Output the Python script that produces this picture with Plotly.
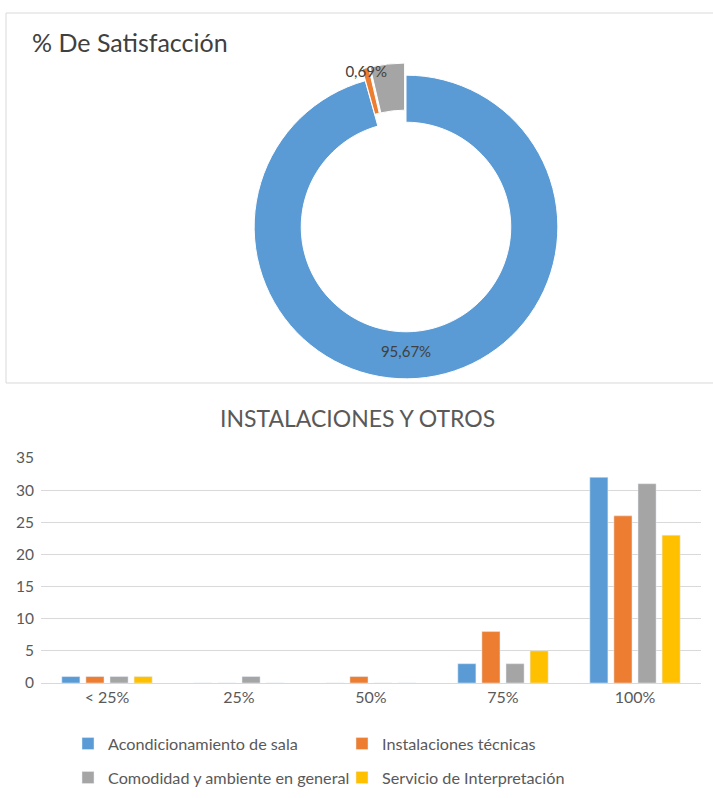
import plotly.graph_objects as go

# Donut data
donut_labels = ["Satisfecho", "Parcial", "No satisfecho"]
donut_values = [95.67, 0.69, 3.64]
donut_text = ["95,67%", "", ""]
donut_text_top = ["", "0,69%", ""]
donut_colors = ["#5B9BD5", "#ED7D31", "#A5A5A5"]

# Bar data
categories = ["< 25%", "25%", "50%", "75%", "100%"]
series_names = ["Acondicionamiento de sala", "Instalaciones técnicas",
                "Comodidad y ambiente en general", "Servicio de Interpretación"]
acondicionamiento = [1, 0, 0, 3, 32]
instalaciones = [1, 0, 1, 8, 26]
comodidad = [1, 1, 0, 3, 31]
interpretacion = [1, 0, 0, 5, 23]
series_values = [acondicionamiento, instalaciones, comodidad, interpretacion]
bar_colors = ["#5B9BD5", "#ED7D31", "#A5A5A5", "#FFC000"]
legend_rows = ["legend", "legend", "legend2", "legend2"]

FONT = "Lato"
W, H = 713, 798

fig = go.Figure()

pie_common = dict(
    labels=donut_labels, values=donut_values,
    textinfo="text", textposition="inside", insidetextorientation="horizontal",
    hole=0.69, sort=False, direction="clockwise", rotation=0,
    pull=[0, 0.08, 0.08],
    textfont=dict(family=FONT, size=15, color="#404040"),
    domain=dict(x=[242 / W, 570 / W], y=[407 / H, 735 / H]),
    showlegend=False, hoverinfo="skip",
)
fig.add_trace(go.Pie(text=donut_text,
                     marker=dict(colors=donut_colors, line=dict(color="white", width=1)),
                     **pie_common))
# overlay carrying only the small-slice label so it stays on top
fig.add_trace(go.Pie(text=donut_text_top,
                     marker=dict(colors=["rgba(0,0,0,0)"] * 3, line=dict(width=0)),
                     **pie_common))

for name, vals, col, lg in zip(series_names, series_values, bar_colors, legend_rows):
    fig.add_trace(go.Bar(name=name, x=categories, y=vals, marker_color=col,
                         legend=lg))

legend_common = dict(orientation="h", x=68 / W, xanchor="left", yanchor="middle",
                     entrywidth=229, entrywidthmode="pixels",
                     font=dict(family=FONT, size=16.2, color="#595959"),
                     itemwidth=30, tracegroupgap=0, bgcolor="rgba(0,0,0,0)")

fig.update_layout(
    width=W, height=H,
    margin=dict(l=0, r=0, t=0, b=0, autoexpand=False),
    paper_bgcolor="white", plot_bgcolor="white",
    font=dict(family=FONT, color="#595959"),
    barmode="group", bargap=0.27, bargroupgap=0.25,
    uniformtext=dict(minsize=15, mode="show"),
    xaxis=dict(domain=[41 / W, 701 / W], showgrid=False, zeroline=False,
               showline=True, linecolor="#d9d9d9", ticks="",
               tickfont=dict(family=FONT, size=16, color="#595959"),
               anchor="y"),
    yaxis=dict(domain=[(H - 683) / H, (H - 458) / H], range=[0, 35], dtick=5,
               showgrid=True, gridcolor="#d9d9d9", zeroline=False,
               tickfont=dict(family=FONT, size=15.5, color="#595959"),
               ticklabelstandoff=6),
    legend=dict(y=(H - 744) / H, **legend_common),
    legend2=dict(y=(H - 778) / H, **legend_common),
    annotations=[
        dict(text="% De Satisfacción", x=30 / W, y=(H - 42) / H, xref="paper",
             yref="paper", xanchor="left", yanchor="middle", showarrow=False,
             font=dict(family=FONT, size=25, color="#404040")),
        dict(text="INSTALACIONES Y OTROS", x=357 / W, y=(H - 418) / H,
             xref="paper", yref="paper", xanchor="center", yanchor="middle",
             showarrow=False, font=dict(family=FONT, size=23, color="#595959")),
    ],
    shapes=[
        dict(type="rect", xref="paper", yref="paper", x0=6 / W, x1=1.01,
             y0=(H - 383) / H, y1=(H - 13) / H,
             line=dict(color="#d9d9d9", width=1), layer="below"),
    ],
)

fig.write_html("out.html", config={"displayModeBar": False},
               post_script="document.body.style.margin='0';")
